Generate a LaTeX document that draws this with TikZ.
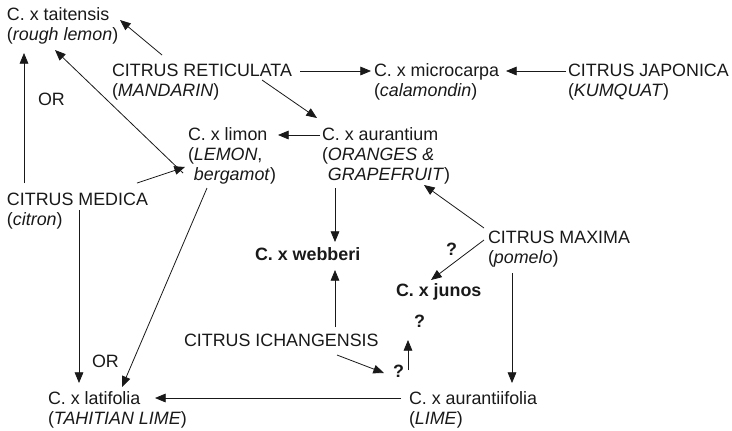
\documentclass[tikz,border=0pt]{standalone}
\usepackage{fontspec}
\setmainfont{Liberation Sans}
\usetikzlibrary{arrows.meta}
\tikzset{
  txt/.style={anchor=base west, align=left, inner sep=0pt, outer sep=0pt, text=black!90},
  hyb/.style={txt, font=\fontsize{13.4}{15}\selectfont\bfseries},
  arr/.style={-{Triangle[length=8pt,width=6.5pt]}, line width=0.6pt, draw=black!90},
}
\begin{document}
\begin{tikzpicture}[x=0.75pt, y=-0.75pt, font=\fontsize{13.4}{15}\selectfont]
            \useasboundingbox (0,0) rectangle (732,430);
            % species and hybrids (placed at the baseline of the last line)
            \node[txt](tait) at (7, 40) {C. x taitensis\\(\textit{rough lemon})};
            \node[txt](reti) at (112, 96) {CITRUS RETICULATA\\(\textit{MANDARIN})};
            \node[txt](micro) at (374, 96) {C. x microcarpa\\(\textit{calamondin})};
            \node[txt](japo) at (568, 96) {CITRUS JAPONICA\\(\textit{KUMQUAT})};
            \node[txt](limon) at (188, 180) {C. x limon\\(\textit{LEMON},\\\hphantom{(}\textit{bergamot})};
            \node[txt](auran) at (322, 180) {C. x aurantium\\(\textit{ORANGES \&}\\\hphantom{(}\textit{GRAPEFRUIT})};
            \node[txt](medica) at (7, 225) {CITRUS MEDICA\\(\textit{citron})};
            \node[txt](maxima) at (488, 263) {CITRUS MAXIMA\\(\textit{pomelo})};
            \node[hyb](webberi) at (255, 260) {C. x webberi};
            \node[hyb](junos) at (396, 296) {C. x junos};
            \node[txt](ichang) at (184, 346) {CITRUS ICHANGENSIS};
            \node[txt](latif) at (48, 424) {C. x latifolia\\(\textit{TAHITIAN LIME})};
            \node[txt](aurif) at (409, 424) {C. x aurantiifolia\\(\textit{LIME})};
            % small labels
            \node[txt](or1) at (38, 105) {OR};
            \node[txt](or2) at (92, 367) {OR};
            \node[hyb](q1) at (446, 255) {?};
            \node[hyb](q2) at (414, 327) {?};
            \node[hyb](q3) at (393, 377) {?};
            % crosses
            \draw[arr] ([shift={(50,-41)}]reti.base west) -- ([shift={(113,-20)}]tait.base west);
            \draw[arr] ([shift={(188,-25)}]reti.base west) -- ([shift={(-3,-25)}]micro.base west);
            \draw[arr] ([shift={(-2,-25)}]japo.base west) -- ([shift={(132,-25)}]micro.base west);
            \draw[arr] ([shift={(150,-16)}]reti.base west) -- ([shift={(-5,-62)}]auran.base west);
            \draw[arr] ([shift={(-2,-45)}]auran.base west) -- ([shift={(90,-45)}]limon.base west);
            \draw[arr] ([shift={(-5,-7)}]limon.base west) -- ([shift={(48,10)}]tait.base west);
            \draw[arr] ([shift={(130,-42)}]medica.base west) -- ([shift={(-3,-13)}]limon.base west);
            \draw[arr] ([shift={(17,-42)}]medica.base west) -- ([shift={(17,13)}]tait.base west);
            \draw[arr] ([shift={(72,-15)}]medica.base west) -- ([shift={(31,-41)}]latif.base west);
            \draw[arr] ([shift={(19,8)}]limon.base west) -- ([shift={(74,-37)}]latif.base west);
            \draw[arr] ([shift={(13,8)}]auran.base west) -- ([shift={(80,-18)}]webberi.base west);
            \draw[arr] ([shift={(151,-19)}]ichang.base west) -- ([shift={(80,10)}]webberi.base west);
            \draw[arr] ([shift={(-4,-35)}]maxima.base west) -- ([shift={(102,5)}]auran.base west);
            \draw[arr] ([shift={(-4,-23)}]maxima.base west) -- ([shift={(35,-16)}]junos.base west);
            \draw[arr] ([shift={(24,10)}]maxima.base west) -- ([shift={(103,-41)}]aurif.base west);
            \draw[arr] ([shift={(-8,-26)}]aurif.base west) -- ([shift={(107,-26)}]latif.base west);
            \draw[arr] ([shift={(153,9)}]ichang.base west) -- ([shift={(-9,-4)}]q3.base west);
            \draw[arr] ([shift={(15,-7)}]q3.base west) -- ([shift={(-6,13)}]q2.base west);
        \end{tikzpicture}
\end{document}
